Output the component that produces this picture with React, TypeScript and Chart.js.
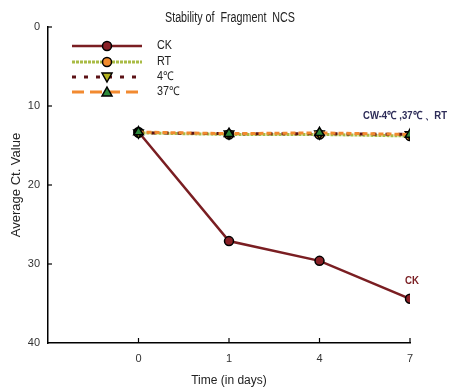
import React, { useEffect, useRef } from "react";
import { Chart, registerables } from "chart.js";

Chart.register(...registerables);

const dayLabels = ["0", "1", "4", "7"];
const ckValues = [13.3, 27.1, 29.6, 34.4];
const rtValues = [13.4, 13.6, 13.6, 13.8];
const c4Values = [13.4, 13.5, 13.5, 13.6];
const c37Values = [13.3, 13.5, 13.4, 13.6];
const yTicks = [0, 10, 20, 30, 40];

const FONT = "'Liberation Sans', Arial, sans-serif";

const toPts = (arr: number[]) => arr.map((v, i) => ({ x: i, y: v }));

const seriesStyles = [
  { label: "CK", color: "#7a1e22", width: 2.5, dash: [] as number[], pStyle: "circle", pFill: "#8a2026", rot: 0 },
  { label: "RT", color: "#a9bb45", width: 3, dash: [3, 1], pStyle: "circle", pFill: "#f08a2c", rot: 0 },
  { label: "4℃", color: "#5c1216", width: 3, dash: [4, 8], pStyle: "triangle", pFill: "#b3b21e", rot: 180 },
  { label: "37℃", color: "#f28a30", width: 3, dash: [12, 6], pStyle: "triangle", pFill: "#2e8a3c", rot: 0 },
];

// draw text horizontally condensed to fit a target width
function fitText(ctx: any, text: string, x: number, y: number, maxW: number, align: "left" | "center") {
  const w = ctx.measureText(text).width;
  const s = w > maxW ? maxW / w : 1;
  ctx.save();
  ctx.textAlign = "left";
  const startX = align === "center" ? x - (w * s) / 2 : x;
  ctx.translate(startX, y);
  ctx.scale(s, 1);
  ctx.fillText(text, 0, 0);
  ctx.restore();
}

const extrasPlugin = {
  id: "extras",
  afterDraw(chart: any) {
    const ctx = chart.ctx;
    const xs = chart.scales.x;
    const ys = chart.scales.y;
    const area = chart.chartArea;
    ctx.save();
    // title
    ctx.fillStyle = "#222";
    ctx.font = `14px ${FONT}`;
    ctx.textBaseline = "middle";
    fitText(ctx, "Stability of  Fragment  NCS", 230, 18, 130, "center");

    // inner tick marks
    ctx.strokeStyle = "#000";
    ctx.lineWidth = 1.2;
    yTicks.forEach((t) => {
      if (t === 40) return;
      const py = ys.getPixelForValue(t);
      ctx.beginPath();
      ctx.moveTo(area.left, py);
      ctx.lineTo(area.left + 4, py);
      ctx.stroke();
    });
    dayLabels.forEach((_, i) => {
      const px = xs.getPixelForValue(i);
      ctx.beginPath();
      ctx.moveTo(px, area.bottom);
      ctx.lineTo(px, area.bottom - 5);
      ctx.stroke();
    });

    // legend
    const lx0 = 72, lx1 = 142, mx = 107, tx = 157;
    const rowsY = [46, 62, 77, 92];
    seriesStyles.forEach((s, i) => {
      const y = rowsY[i];
      ctx.save();
      ctx.strokeStyle = s.color;
      ctx.lineWidth = s.width;
      ctx.setLineDash(s.dash);
      ctx.beginPath();
      ctx.moveTo(lx0, y);
      ctx.lineTo(lx1, y);
      ctx.stroke();
      ctx.restore();
      ctx.save();
      ctx.fillStyle = s.pFill;
      ctx.strokeStyle = "#000";
      ctx.lineWidth = 1.5;
      ctx.beginPath();
      if (s.pStyle === "circle") {
        ctx.arc(mx, y, 4.5, 0, Math.PI * 2);
      } else {
        const r = 5;
        const dir = s.rot === 180 ? -1 : 1;
        ctx.moveTo(mx, y - dir * r);
        ctx.lineTo(mx + r, y + dir * r * 0.8);
        ctx.lineTo(mx - r, y + dir * r * 0.8);
        ctx.closePath();
      }
      ctx.fill();
      ctx.stroke();
      ctx.restore();
      ctx.fillStyle = "#222";
      ctx.font = `12px ${FONT}`;
      ctx.textBaseline = "middle";
      const w = ctx.measureText(s.label).width;
      fitText(ctx, s.label, tx, y, w * 0.9, "left");
    });

    // annotations
    ctx.font = `bold 11px ${FONT}`;
    ctx.textBaseline = "middle";
    ctx.fillStyle = "#2d2c58";
    fitText(ctx, "CW-4℃ ,37℃ 、RT", 363, 116, 84, "left");
    ctx.fillStyle = "#7a1e22";
    fitText(ctx, "CK", 412, 281, 14, "center");
    ctx.restore();
  },
};

export default function App() {
  const ref = useRef<HTMLCanvasElement>(null);
  useEffect(() => {
    document.body.style.margin = "0";
    const datasets = [ckValues, rtValues, c4Values, c37Values].map((vals, i) => {
      const s = seriesStyles[i];
      return {
        label: s.label,
        data: toPts(vals),
        borderColor: s.color,
        backgroundColor: s.pFill,
        borderWidth: s.width,
        borderDash: i === 3 ? [5, 3] : i === 2 ? [4, 9] : s.dash,
        pointStyle: s.pStyle,
        pointRotation: s.rot,
        pointRadius: s.pStyle === "circle" ? 4.5 : 5.5,
        pointBackgroundColor: s.pFill,
        pointBorderColor: "#000",
        pointBorderWidth: 1.5,
        order: [3, 2, 1, 0][i],
        tension: 0,
      };
    });
    const chart = new Chart(ref.current!, {
      type: "line",
      data: { datasets },
      plugins: [extrasPlugin],
      options: {
        animation: false,
        responsive: false,
        layout: { padding: { top: 27, left: 0, right: 44, bottom: 0 } },
        plugins: {
          legend: { display: false },
          tooltip: { enabled: false },
          title: { display: false },
        },
        scales: {
          x: {
            type: "linear",
            min: -1,
            max: 3,
            afterFit: (axis: any) => {
              axis.height = 48;
            },
            grid: { display: false, drawTicks: false },
            border: { display: true, color: "#000", width: 1.5 },
            ticks: {
              stepSize: 1,
              padding: 9,
              color: "#333",
              font: { family: FONT, size: 11 },
              callback: (v: any) => (v >= 0 && v < dayLabels.length ? dayLabels[v] : ""),
            },
            title: {
              display: true,
              text: "Time (in days)",
              color: "#222",
              font: { family: FONT, size: 12 },
              padding: { top: 0, bottom: 3 },
            },
          },
          y: {
            type: "linear",
            min: 0,
            max: 40,
            reverse: true,
            afterFit: (axis: any) => {
              axis.width = 48;
            },
            grid: { display: false, drawTicks: false },
            border: { display: true, color: "#000", width: 1.5 },
            ticks: {
              stepSize: 10,
              padding: 8,
              color: "#333",
              font: { family: FONT, size: 11 },
            },
            title: {
              display: true,
              text: "Average Ct. Value",
              color: "#222",
              font: { family: FONT, size: 13 },
              padding: { top: 9, bottom: 0 },
            },
          },
        },
      } as any,
    });
    return () => chart.destroy();
  }, []);
  return <canvas ref={ref} width={454} height={391} style={{ display: "block" }} />;
}
